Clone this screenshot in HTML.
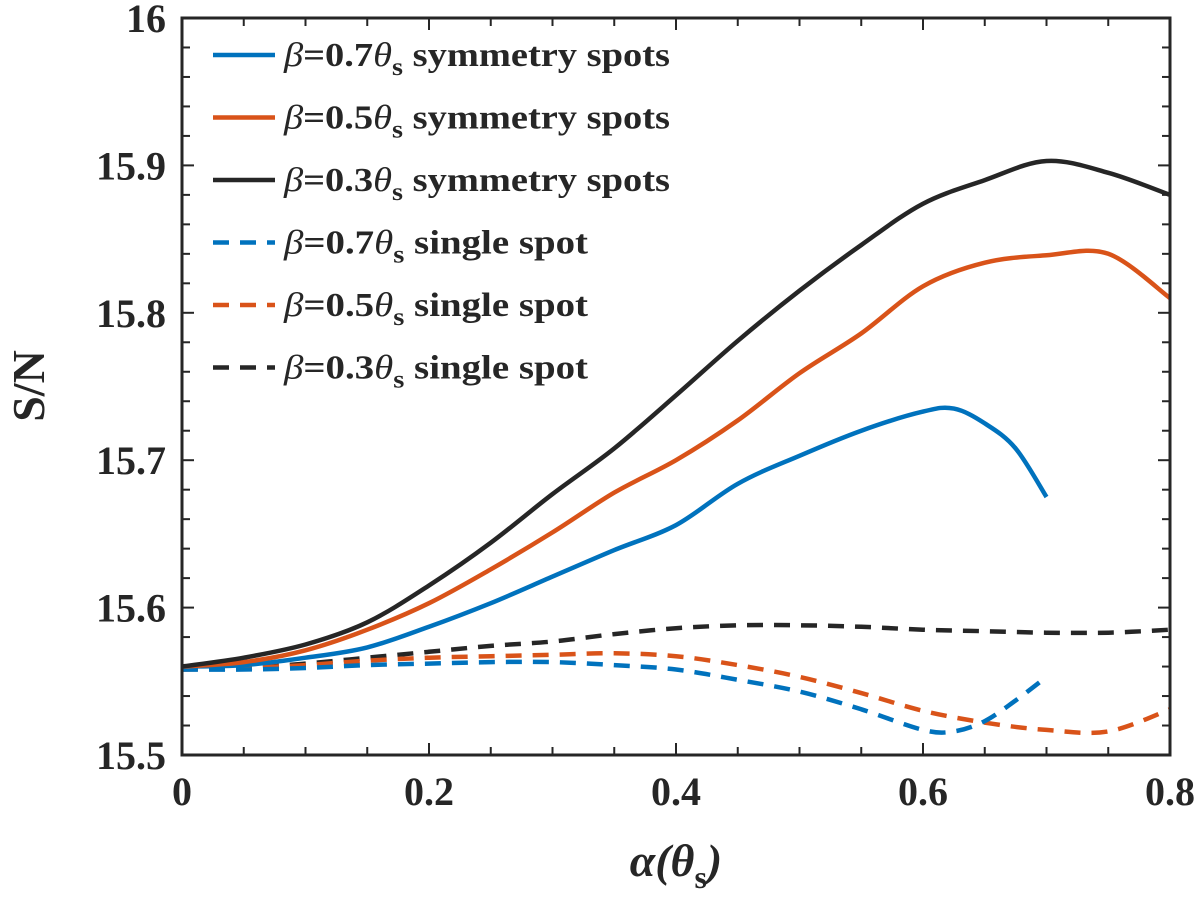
<!DOCTYPE html>
<html><head><meta charset="utf-8"><style>
body{margin:0;background:#fff}
svg text{font-family:"Liberation Serif","DejaVu Serif",serif;font-weight:bold;fill:#262626}
</style></head><body>
<svg width="1200" height="909" xmlns="http://www.w3.org/2000/svg">
<g id="grid"></g><g id="series"></g><g id="axes"></g><g id="legend"></g>
</svg>
<script>
const xs = [0,0.05,0.1,0.15,0.2,0.25,0.3,0.35,0.4,0.45,0.5,0.55,0.6,0.65,0.7,0.75,0.8];
const blackSolid = [15.56,15.566,15.575,15.590,15.615,15.644,15.677,15.708,15.744,15.781,15.815,15.846,15.874,15.890,15.903,15.895,15.880];
const orangeSolid = [15.56,15.563,15.571,15.585,15.603,15.626,15.651,15.678,15.700,15.727,15.759,15.786,15.818,15.834,15.839,15.840,15.810];
const xsBlue = [0,0.05,0.1,0.15,0.2,0.25,0.3,0.35,0.4,0.45,0.5,0.55,0.6,0.625,0.65,0.675,0.7];
const blueSolid = [15.56,15.561,15.566,15.573,15.587,15.603,15.621,15.639,15.656,15.684,15.703,15.720,15.733,15.735,15.725,15.708,15.675];
const blackDash = [15.558,15.559,15.562,15.566,15.570,15.574,15.577,15.582,15.586,15.588,15.588,15.587,15.585,15.584,15.583,15.583,15.585];
const orangeDash = [15.558,15.559,15.561,15.564,15.566,15.567,15.568,15.569,15.567,15.561,15.553,15.542,15.530,15.522,15.517,15.516,15.531];
const blueDash = [15.558,15.558,15.559,15.561,15.562,15.563,15.563,15.561,15.558,15.551,15.543,15.531,15.517,15.516,15.523,15.537,15.553];
const xTicks = [0,0.2,0.4,0.6,0.8];
const xTickLabels = ["0","0.2","0.4","0.6","0.8"];
const yTicks = [15.5,15.6,15.7,15.8,15.9,16];
const yTickLabels = ["15.5","15.6","15.7","15.8","15.9","16"];
const legendLabels = ["0.7","0.5","0.3","0.7","0.5","0.3"];

const L=182,R=1170,T=18,B=755;
const X=v=>L+(v-0)/(0.8)*(R-L);
const Y=v=>B-(v-15.5)/0.5*(B-T);
const NS="http://www.w3.org/2000/svg";
const FF='"Liberation Serif","DejaVu Serif",serif';
function mk(tag,attrs,parent){const e=document.createElementNS(NS,tag);for(const k in attrs)e.setAttribute(k,attrs[k]);if(tag==='text')e.setAttribute('font-family',FF);parent.appendChild(e);return e;}
function smooth(pts){let d='M'+pts[0][0].toFixed(1)+' '+pts[0][1].toFixed(1);
 for(let i=0;i<pts.length-1;i++){const p0=pts[i-1]||pts[i],p1=pts[i],p2=pts[i+1],p3=pts[i+2]||p2;
  const c1=[p1[0]+(p2[0]-p0[0])/6,p1[1]+(p2[1]-p0[1])/6],c2=[p2[0]-(p3[0]-p1[0])/6,p2[1]-(p3[1]-p1[1])/6];
  d+='C'+c1.map(v=>v.toFixed(1)).join(' ')+' '+c2.map(v=>v.toFixed(1)).join(' ')+' '+p2[0].toFixed(1)+' '+p2[1].toFixed(1);}
 return d;}
const ser=document.getElementById('series');
const blue="#0072BD",orange="#D95319",black="#262626";
const defs=[
 [xsBlue,blueSolid,blue,null,'blue-solid-line'],
 [xs,orangeSolid,orange,null,'orange-solid-line'],
 [xs,blackSolid,black,null,'black-solid-line'],
 [xsBlue,blueDash,blue,'16 11','blue-dashed-line'],
 [xs,orangeDash,orange,'16 11','orange-dashed-line'],
 [xs,blackDash,black,'16 11','black-dashed-line']];
const order=[5,4,3,0,1,2];
order.forEach(i=>{const [xx,yy,c,d,n]=defs[i];
 const p=mk('path',{d:smooth(xx.map((x,j)=>[X(x),Y(yy[j])])),fill:'none',stroke:c,'stroke-width':4.5,'stroke-linejoin':'round'},ser);
 if(d)p.setAttribute('stroke-dasharray',d);
 
 
});
const ax=document.getElementById('axes');
const box=mk('rect',{x:L,y:T,width:R-L,height:B-T,fill:'none',stroke:black,'stroke-width':3},ax);


for(let k=0;k<=16;k++){const v=k*0.05;const len=(k%4==0)?12:8;
 mk('line',{x1:X(v),x2:X(v),y1:B,y2:B-len,stroke:black,'stroke-width':2},ax);
 mk('line',{x1:X(v),x2:X(v),y1:T,y2:T+len,stroke:black,'stroke-width':2},ax);}
for(let k=0;k<=25;k++){const v=15.5+k*0.02;const len=(k%5==0)?12:8;
 mk('line',{x1:L,x2:L+len,y1:Y(v),y2:Y(v),stroke:black,'stroke-width':2},ax);
 mk('line',{x1:R,x2:R-len,y1:Y(v),y2:Y(v),stroke:black,'stroke-width':2},ax);}
xTicks.forEach((v,i)=>{const t=mk('text',{x:X(v),y:B+50,'text-anchor':'middle','font-size':40},ax);t.textContent=xTickLabels[i];
 
 });
yTicks.forEach((v,i)=>{const t=mk('text',{x:L-16,y:Y(v)+14,'text-anchor':'end','font-size':40},ax);t.textContent=yTickLabels[i];
 
 });
const yl=mk('text',{x:0,y:0,'text-anchor':'middle','font-size':46,transform:'translate(44,386) rotate(-90)'},ax);yl.textContent='S/N';


const xl=mk('text',{x:676,y:876,'text-anchor':'middle','font-size':46,'font-style':'italic','font-weight':'normal'},ax);
xl.innerHTML='α(θ<tspan font-size="32" dy="12" font-style="normal">s</tspan><tspan dy="-12">)</tspan>';


const lg=document.getElementById('legend');
const cols=[blue,orange,black,blue,orange,black];
for(let i=0;i<6;i++){const y=55+i*62.5;
 const ln=mk('line',{x1:213,x2:275,y1:y,y2:y,stroke:cols[i],'stroke-width':4.5},lg);
 if(i>=3)ln.setAttribute('stroke-dasharray','16 11');
 
 
 const t=mk('text',{x:284,y:y+11,'font-size':34,textLength:(i<3?386:304),lengthAdjust:'spacingAndGlyphs'},lg);
 t.innerHTML='<tspan font-style="italic" font-weight="normal">β</tspan>='+legendLabels[i]+'<tspan font-style="italic" font-weight="normal">θ</tspan><tspan font-size="25" dy="9">s</tspan><tspan dy="-9"> '+(i<3?'symmetry spots':'single spot')+'</tspan>';
 
 
}
</script>
</body></html>
